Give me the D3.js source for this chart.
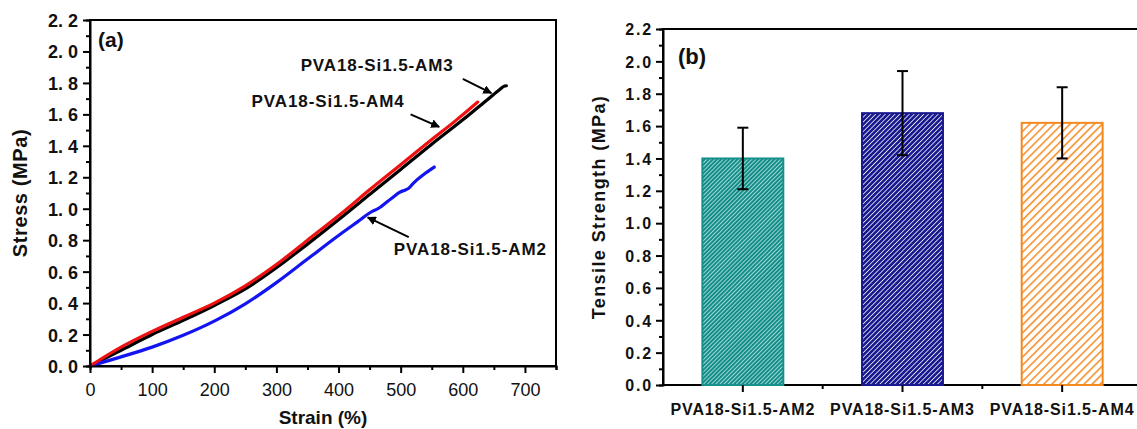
<!DOCTYPE html>
<html>
<head>
<meta charset="utf-8">
<script src="https://cdn.jsdelivr.net/npm/d3@7.9.0/dist/d3.min.js"></script>
<style>
  body { margin: 0; background: #fff; }
  svg { display: block; font-family: "Liberation Sans", Arial, sans-serif; }
  .axis path, .axis line { stroke: #000; stroke-width: 2px; }
</style>
</head>
<body>
<svg id="chart" width="1137" height="429"></svg>
<script>
// (a) stress-strain curves: [strain %, stress MPa]
const am2Curve = [[0,0],[50,0.058],[100,0.12],[150,0.195],[200,0.285],[250,0.395],[300,0.53],[350,0.68],
  [400,0.83],[430,0.915],[455,0.985],[462,0.997],[469,1.015],[485,1.065],[500,1.108],[507,1.118],[513,1.13],
  [521,1.165],[537,1.218],[554,1.265]];
const am3Curve = [[0,0],[50,0.10],[100,0.20],[150,0.29],[200,0.385],[250,0.49],[300,0.625],[350,0.775],
  [400,0.93],[450,1.09],[500,1.25],[550,1.41],[600,1.565],[640,1.695],[660,1.76],[666,1.778],[670,1.782]];
const am4Curve = [[0,0],[50,0.12],[100,0.22],[150,0.31],[200,0.40],[250,0.51],[300,0.645],[350,0.80],
  [400,0.955],[450,1.12],[500,1.28],[550,1.44],[590,1.565],[600,1.598],[624,1.678]];

// (b) tensile strength bars
const barLabels = ["PVA18-Si1.5-AM2", "PVA18-Si1.5-AM3", "PVA18-Si1.5-AM4"];
const barValues = [1.40, 1.68, 1.62];
const barErrors = [0.19, 0.26, 0.22];

const strainTicks = [0, 100, 200, 300, 400, 500, 600, 700];
const stressTicks = [0, 0.2, 0.4, 0.6, 0.8, 1.0, 1.2, 1.4, 1.6, 1.8, 2.0, 2.2];

const svg = d3.select('#chart');
const defs = svg.append('defs');

// ---------- panel (a) ----------
const xa = d3.scaleLinear().domain([0, 750]).range([90, 556]);
const ya = d3.scaleLinear().domain([0, 2.2]).range([366, 20]);

const gA = svg.append('g');
gA.append('rect')
  .attr('x', xa(0)).attr('y', ya(2.2))
  .attr('width', xa(750) - xa(0)).attr('height', ya(0) - ya(2.2))
  .attr('fill', 'none').attr('stroke', '#000').attr('stroke-width', 2);

const line = d3.line().x(d => xa(d[0])).y(d => ya(d[1])).curve(d3.curveMonotoneX);
[[am3Curve, '#000'], [am2Curve, '#1414f0'], [am4Curve, '#ee1111']].forEach(([c, col]) => {
  gA.append('path').attr('d', line(c)).attr('fill', 'none')
    .attr('stroke', col).attr('stroke-width', 3.2).attr('stroke-linejoin', 'round').attr('stroke-linecap', 'round');
});

// minor ticks
gA.append('g').attr('class', 'axis').attr('transform', `translate(0,${ya(0)})`)
  .call(d3.axisBottom(xa).tickValues(d3.range(50, 751, 100)).tickSize(4).tickFormat(''));
gA.append('g').attr('class', 'axis').attr('transform', `translate(${xa(0)},0)`)
  .call(d3.axisLeft(ya).tickValues(d3.range(1, 22, 2).map(v => v / 10)).tickSize(4).tickFormat(''));

const axA = gA.append('g').attr('class', 'axis').attr('transform', `translate(0,${ya(0)})`)
  .call(d3.axisBottom(xa).tickValues(strainTicks).tickSize(7).tickSizeOuter(0).tickPadding(10));
axA.selectAll('text').attr('font-size', 18).attr('fill', '#111').attr('font-family', null);

const ayA = gA.append('g').attr('class', 'axis').attr('transform', `translate(${xa(0)},0)`)
  .call(d3.axisLeft(ya).tickValues(stressTicks).tickSize(7).tickSizeOuter(0).tickPadding(5)
    .tickFormat(d => d.toFixed(1).replace('.', '. ')));
ayA.selectAll('text').attr('font-size', 18).attr('font-weight', 'bold').attr('fill', '#111')
  .attr('font-family', null).attr('dy', '0.36em');
axA.select('.domain').remove(); ayA.select('.domain').remove();

gA.append('text').attr('x', 323).attr('y', 424).attr('text-anchor', 'middle')
  .attr('font-size', 19).attr('font-weight', 'bold').attr('fill', '#111').text('Strain (%)');
gA.append('text').attr('transform', 'translate(27,193) rotate(-90)').attr('text-anchor', 'middle')
  .attr('font-size', 20).attr('font-weight', 'bold').attr('letter-spacing', 0.6).attr('fill', '#111')
  .text('Stress (MPa)');
gA.append('text').attr('x', 98).attr('y', 47).attr('font-size', 21).attr('font-weight', 'bold')
  .attr('fill', '#111').text('(a)');

// annotations
defs.append('marker').attr('id', 'arrow').attr('viewBox', '0 0 10 10').attr('refX', 9).attr('refY', 5)
  .attr('markerWidth', 4.5).attr('markerHeight', 4.5).attr('orient', 'auto').attr('markerUnits', 'strokeWidth')
  .append('path').attr('d', 'M0,0L10,5L0,10z').attr('fill', '#000');

const notes = [
  { text: 'PVA18-Si1.5-AM3', tx: 339, ty: 1.875, from: [600, 1.825], to: [646, 1.735] },
  { text: 'PVA18-Si1.5-AM4', tx: 260, ty: 1.646, from: [516, 1.60], to: [562, 1.52] },
  { text: 'PVA18-Si1.5-AM2', tx: 489, ty: 0.706, from: [513, 0.82], to: [447, 0.945] }
];
notes.forEach(n => {
  gA.append('text').attr('x', xa(n.tx)).attr('y', ya(n.ty)).attr('font-size', 17).attr('font-weight', 'bold')
    .attr('letter-spacing', 0.9).attr('fill', '#111').text(n.text);
  gA.append('line').attr('x1', xa(n.from[0])).attr('y1', ya(n.from[1]))
    .attr('x2', xa(n.to[0])).attr('y2', ya(n.to[1]))
    .attr('stroke', '#000').attr('stroke-width', 2).attr('marker-end', 'url(#arrow)');
});

// ---------- panel (b) ----------
const xb = d3.scaleBand().domain(barLabels).range([663, 1142]).paddingInner(0.493).paddingOuter(0.2465);
const yb = d3.scaleLinear().domain([0, 2.2]).range([385, 29]);

function hatch(id, bg, fg, size, width) {
  const p = defs.append('pattern').attr('id', id).attr('patternUnits', 'userSpaceOnUse')
    .attr('width', size).attr('height', size).attr('patternTransform', 'rotate(45)');
  p.append('rect').attr('width', size).attr('height', size).attr('fill', bg);
  p.append('rect').attr('width', width).attr('height', size).attr('fill', fg);
}
hatch('h0', '#148c87', '#c4efeb', 2.9, 0.75);
hatch('h1', '#ffffff', '#18188f', 3.4, 2.65);
hatch('h2', '#ffffff', '#f28a20', 5.7, 1.5);
const barStroke = ['#16908b', '#18188f', '#f28a20'];

const gB = svg.append('g');
gB.append('rect').attr('x', 663).attr('y', yb(2.2)).attr('width', 1142 - 663).attr('height', yb(0) - yb(2.2))
  .attr('fill', 'none').attr('stroke', '#000').attr('stroke-width', 2);

gB.selectAll('rect.bar').data(barLabels).join('rect').attr('class', 'bar')
  .attr('x', d => xb(d)).attr('width', xb.bandwidth())
  .attr('y', (d, i) => yb(barValues[i])).attr('height', (d, i) => yb(0) - yb(barValues[i]))
  .attr('fill', (d, i) => `url(#h${i})`).attr('stroke', (d, i) => barStroke[i]).attr('stroke-width', 2);

const eb = gB.selectAll('g.err').data(barLabels).join('g').attr('class', 'err')
  .attr('stroke', '#000').attr('stroke-width', 2);
eb.append('line').attr('x1', d => xb(d) + xb.bandwidth() / 2).attr('x2', d => xb(d) + xb.bandwidth() / 2)
  .attr('y1', (d, i) => yb(barValues[i] + barErrors[i])).attr('y2', (d, i) => yb(barValues[i] - barErrors[i]));
[1, -1].forEach(s => {
  eb.append('line').attr('x1', d => xb(d) + xb.bandwidth() / 2 - 5.5).attr('x2', d => xb(d) + xb.bandwidth() / 2 + 5.5)
    .attr('y1', (d, i) => yb(barValues[i] + s * barErrors[i])).attr('y2', (d, i) => yb(barValues[i] + s * barErrors[i]));
});

// minor ticks
gB.append('g').attr('class', 'axis').attr('transform', `translate(663,0)`)
  .call(d3.axisLeft(yb).tickValues(d3.range(1, 22, 2).map(v => v / 10)).tickSize(4).tickFormat(''));
gB.selectAll('line.minor').data(barLabels).join('line').attr('class', 'minor')
  .attr('x1', d => xb(d) + xb.bandwidth() / 2 + xb.step() / 2).attr('x2', d => xb(d) + xb.bandwidth() / 2 + xb.step() / 2)
  .attr('y1', yb(0)).attr('y2', yb(0) + 4).attr('stroke', '#000').attr('stroke-width', 2);

const axB = gB.append('g').attr('class', 'axis').attr('transform', `translate(0,${yb(0)})`)
  .call(d3.axisBottom(xb).tickSize(7).tickSizeOuter(0).tickPadding(12));
axB.selectAll('text').attr('font-size', 16).attr('font-weight', 'bold').attr('letter-spacing', 0.9)
  .attr('fill', '#111').attr('font-family', null);

const ayB = gB.append('g').attr('class', 'axis').attr('transform', `translate(663,0)`)
  .call(d3.axisLeft(yb).tickValues(stressTicks).tickSize(7).tickSizeOuter(0).tickPadding(3).tickFormat(d3.format('.1f')));
ayB.selectAll('text').attr('font-size', 16).attr('font-weight', 'bold').attr('letter-spacing', 1.8)
  .attr('fill', '#111').attr('font-family', null).attr('dy', '0.36em');
axB.select('.domain').remove(); ayB.select('.domain').remove();

gB.append('text').attr('transform', 'translate(605,207) rotate(-90)').attr('text-anchor', 'middle')
  .attr('font-size', 18).attr('font-weight', 'bold').attr('letter-spacing', 1.4).attr('fill', '#111')
  .text('Tensile Strength (MPa)');
gB.append('text').attr('x', 678).attr('y', 64).attr('font-size', 22).attr('font-weight', 'bold')
  .attr('fill', '#111').text('(b)');
</script>
</body>
</html>
